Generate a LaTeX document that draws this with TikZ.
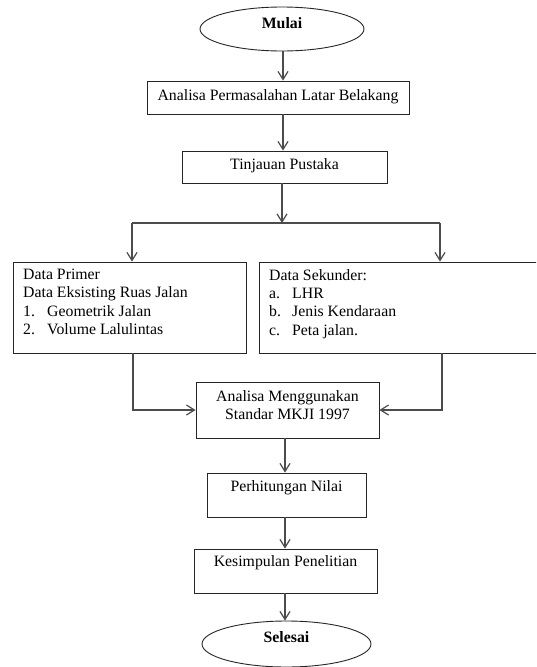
\documentclass[tikz,border=0pt]{standalone}
\usepackage{fontspec}
\setmainfont{Liberation Serif}
\usetikzlibrary{arrows.meta,shapes.geometric}

\tikzset{
    kotak/.style={draw=black!85, line width=0.9pt, inner sep=0pt},
    oval/.style={kotak, ellipse},
    teks/.style={font=\fontsize{15.8}{18.3}\selectfont, inner sep=0pt},
    garis/.style={draw=black!70, line width=1.2pt},
    panah/.style={garis, -{Straight Barb[length=8pt,width=10pt]}}
}

\begin{document}
\begin{tikzpicture}[x=1pt,y=-1pt]
    \clip (0,0) rectangle (536,667);
    \fill[white] (0,0) rectangle (536,667);

    % Mulai
    \node[oval, minimum width=164, minimum height=44] (mulai) at (282,29) {};
    \node[teks] (tmulai) at (282,23) {\textbf{Mulai}};

    % Latar belakang dan tinjauan pustaka
    \node[kotak, minimum width=262, minimum height=33] (latar) at (278,97.5) {};
    \node[teks] (tlatar) at (278,97) {Analisa Permasalahan Latar Belakang};
    \node[kotak, minimum width=205, minimum height=32] (pustaka) at (284.5,167) {};
    \node[teks] (tpustaka) at (284.5,166) {Tinjauan Pustaka};

    % Data primer dan sekunder
    \node[kotak, minimum width=233, minimum height=91] (primer) at (129.5,307.5) {};
    \node[teks, anchor=north west, align=left] (tprimer) at (23,269) {Data Primer\\
        Data Eksisting Ruas Jalan\\
        \makebox[24pt][l]{1.}Geometrik Jalan\\
        \makebox[24pt][l]{2.}Volume Lalulintas};
    \node[kotak, minimum width=290, minimum height=91] (sekunder) at (404,307.5) {};
    \node[teks, anchor=north west, align=left] (tsekunder) at (269,269) {Data Sekunder:\\
        \makebox[23pt][l]{a.}LHR\\
        \makebox[23pt][l]{b.}Jenis Kendaraan\\
        \makebox[23pt][l]{c.}Peta jalan.};

    % Analisa sampai selesai
    \node[kotak, minimum width=183, minimum height=56] (analisa) at (287.5,410) {};
    \node[teks, align=center] (tanalisa) at (287.5,405) {Analisa Menggunakan\\ Standar MKJI 1997};
    \node[kotak, minimum width=159, minimum height=44] (hitung) at (286.5,495) {};
    \node[teks] (thitung) at (286.5,488) {Perhitungan Nilai};
    \node[kotak, minimum width=183, minimum height=44] (simpulan) at (285.5,571) {};
    \node[teks] (tsimpulan) at (285.5,563) {Kesimpulan Penelitian};
    \node[oval, minimum width=169, minimum height=46] (selesai) at (286.5,644) {};
    \node[teks] (tselesai) at (286.5,637) {\textbf{Selesai}};

    % Alur
    \coordinate (a1) at (283,0);
    \draw[panah] (a1 |- mulai.south) -- (a1 |- latar.north);
    \draw[panah] (a1 |- latar.south) -- (a1 |- pustaka.north);
    \coordinate (cabang) at (282,223);
    \coordinate (kiri) at (132,223);
    \coordinate (kanan) at (440,223);
    \draw[panah] (cabang |- pustaka.south) -- (cabang);
    \draw[garis] (kiri) -- (kanan);
    \draw[panah] (kiri) -- (kiri |- primer.north);
    \draw[panah] (kanan) -- (kanan |- sekunder.north);

    \coordinate (kiribawah) at (133,410);
    \coordinate (kananbawah) at (442,410);
    \draw[panah] (kiribawah |- primer.south) -- (kiribawah) -- (analisa.west |- kiribawah);
    \draw[panah] (kananbawah |- sekunder.south) -- (kananbawah) -- (analisa.east |- kananbawah);

    \coordinate (a2) at (285,0);
    \draw[panah] (a2 |- analisa.south) -- (a2 |- hitung.north);
    \draw[panah] (a2 |- hitung.south) -- (a2 |- simpulan.north);
    \draw[panah] (a2 |- simpulan.south) -- (a2 |- selesai.north);
\end{tikzpicture}
\end{document}
